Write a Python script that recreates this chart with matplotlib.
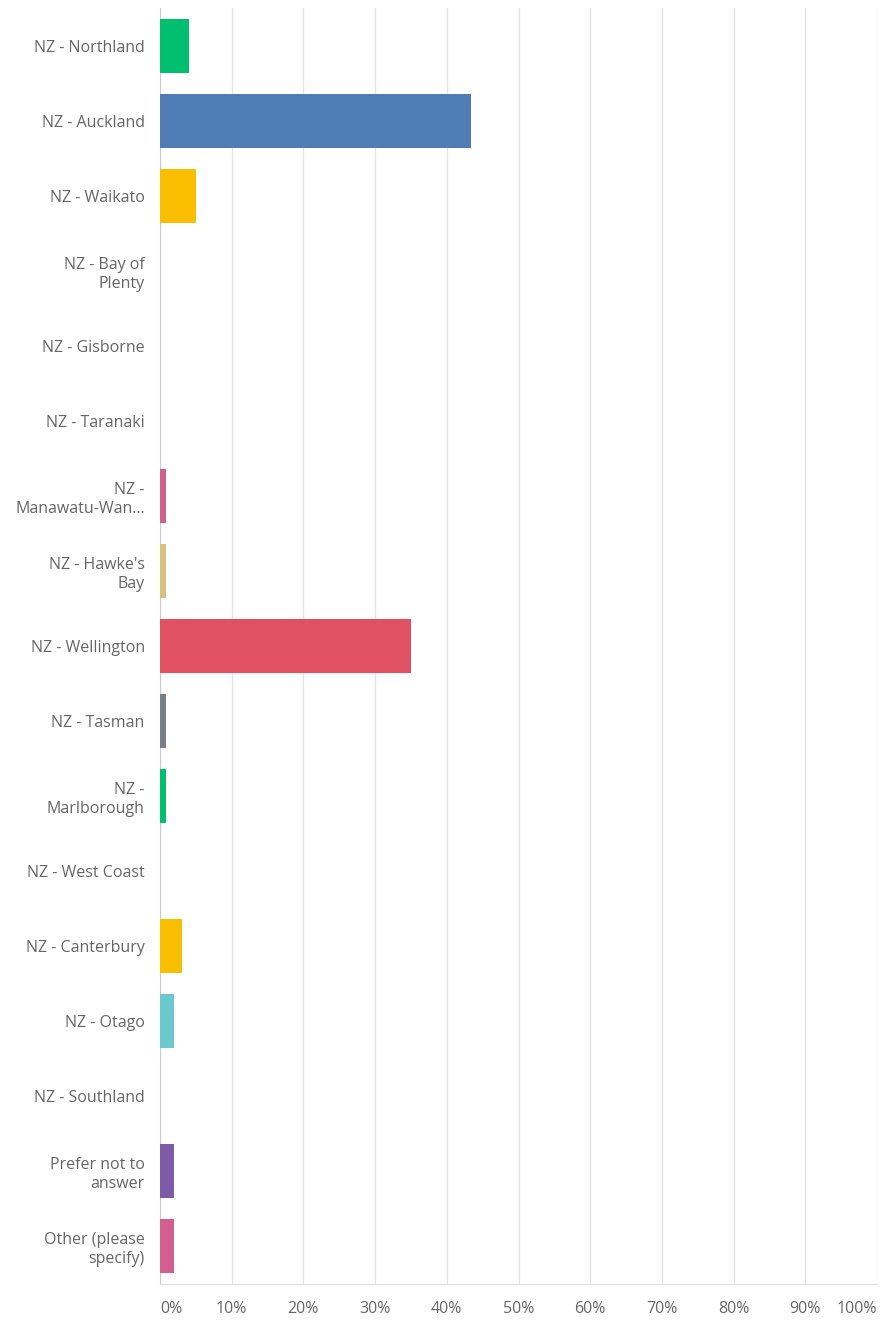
import matplotlib
matplotlib.use("Agg")
import matplotlib.pyplot as plt

# survey answers, top to bottom
categories = [
    "NZ - Northland", "NZ - Auckland", "NZ - Waikato", "NZ - Bay of\nPlenty",
    "NZ - Gisborne", "NZ - Taranaki", "NZ -\nManawatu-Wan...", "NZ - Hawke's\nBay",
    "NZ - Wellington", "NZ - Tasman", "NZ -\nMarlborough", "NZ - West Coast",
    "NZ - Canterbury", "NZ - Otago", "NZ - Southland", "Prefer not to\nanswer",
    "Other (please\nspecify)",
]
percent = [4.0, 43.4, 5.0, 0.0, 0.0, 0.0, 0.9, 0.9, 35.0, 0.9, 0.9, 0.0,
           3.1, 2.0, 0.0, 2.0, 2.0]
palette = ["#00bf6f", "#507cb6", "#f9be00", "#6bc8cd", "#ff8b4f",
           "#7d5ba6", "#d25f90", "#d8c07f", "#e05263", "#768086"]
xticks = list(range(0, 101, 10))
xtick_labels = [f"{t}%" for t in xticks]

fig = plt.figure(figsize=(8.8, 13.25), dpi=100)
ax = fig.add_axes([160 / 880, 41 / 1325, 717 / 880, 1276 / 1325])

ypos = list(range(len(categories)))
colors = [palette[i % len(palette)] for i in ypos]
ax.barh(ypos, percent, height=0.72, color=colors, zorder=3)

ax.set_ylim(len(categories) - 0.5, -0.5)
ax.set_xlim(0, 100)
ax.set_yticks(ypos)
ax.set_yticklabels(categories, fontsize=11.5, color="#666666",
                   family="Open Sans", linespacing=1.25)
ax.set_xticks(xticks)
labels = ax.set_xticklabels(xtick_labels, fontsize=11.5, color="#666666",
                            family="Open Sans")
labels[0].set_ha("left")
labels[-1].set_ha("right")
ax.tick_params(axis="both", length=0)
ax.tick_params(axis="x", pad=12)
ax.tick_params(axis="y", pad=11)

ax.grid(axis="x", color="#e4e4e4", linewidth=1, zorder=0)
for side in ("top", "right"):
    ax.spines[side].set_visible(False)
ax.spines["left"].set_color("#cccccc")
ax.spines["bottom"].set_color("#dddddd")

fig.savefig("out.png", dpi=100)
plt.close(fig)
